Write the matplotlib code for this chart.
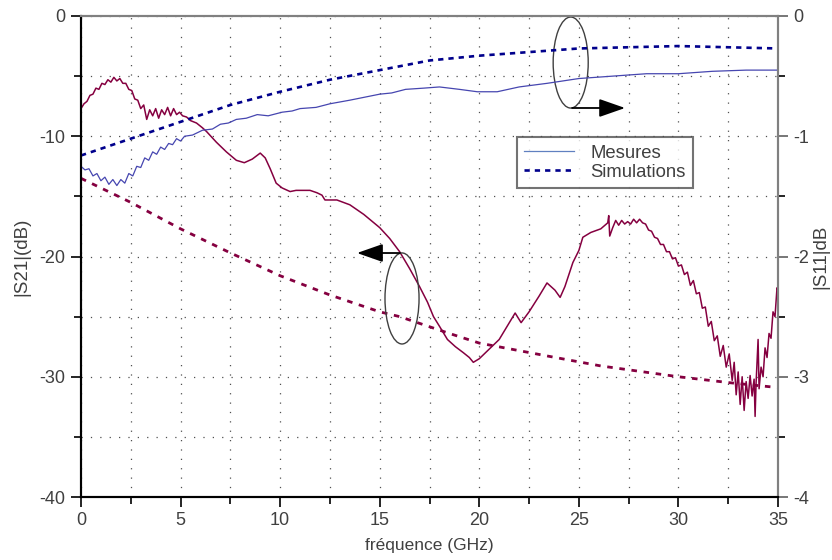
#!/usr/bin/env python3

import matplotlib
matplotlib.use("Agg")
import matplotlib.pyplot as plt
import matplotlib.ticker as mticker
from matplotlib.patches import Ellipse

plt.rcParams["font.family"] = ["Liberation Sans", "DejaVu Sans"]
plt.rcParams["axes.unicode_minus"] = False

MAROON = "#850040"
BLUE_MEAS = "#4646b0"
BLUE_SIM = "#00008c"
TEXT = "#404040"

# |S21| mesure (axe gauche, dB)
S21_MEAS_F = [
    0.0, 0.15, 0.3, 0.45, 0.6, 0.75, 0.9, 1.05, 1.2, 1.35, 1.5, 1.65, 1.8, 1.95,
    2.1, 2.25, 2.4, 2.55, 2.7, 2.85, 3.0, 3.15, 3.3, 3.45, 3.6, 3.75, 3.9, 4.05,
    4.2, 4.35, 4.5, 4.65, 4.8, 4.95, 5.1, 5.3, 5.5, 5.8, 6.1, 6.3, 6.8, 7.3,
    7.8, 8.2, 8.6, 9.0, 9.25, 9.5, 9.8, 10.1, 10.5, 10.8, 11.15, 11.5, 11.85,
    12.1, 12.25, 12.85, 13.5, 14.2, 15.0, 15.5, 16.0, 16.5, 17.0, 17.4, 17.7,
    18.0, 18.4, 18.8, 19.2, 19.5, 19.7, 20.0, 20.5, 21.0, 21.4, 21.8, 22.1,
    22.5, 23.0, 23.4, 23.8, 24.06, 24.3, 24.7, 25.0, 25.2, 25.6, 26.1, 26.45,
    26.5, 26.55, 26.7, 26.85, 27.0, 27.15, 27.3, 27.45, 27.6, 27.75, 27.9,
    28.05, 28.2, 28.35, 28.5, 28.65, 28.8, 28.95, 29.1, 29.25, 29.4, 29.55,
    29.7, 29.85, 30.0, 30.15, 30.3, 30.45, 30.6, 30.75, 30.9, 31.05, 31.2,
    31.35, 31.5, 31.65, 31.8, 31.95, 32.1, 32.25, 32.4, 32.55, 32.7, 32.8,
    32.9, 33.0, 33.1, 33.2, 33.3, 33.4, 33.5, 33.6, 33.7, 33.8, 33.85, 33.9,
    34.0, 34.05, 34.15, 34.25, 34.35, 34.45, 34.55, 34.65, 34.75, 34.85,
    34.95, 35.0,
]
S21_MEAS = [
    -7.7, -7.3, -7.1, -6.6, -6.5, -6.0, -6.1, -5.6, -5.7, -5.3, -5.5, -5.1, -5.4, -5.2,
    -5.6, -5.6, -6.1, -6.2, -6.9, -7.0, -7.7, -7.4, -8.6, -7.8, -8.3, -7.7, -8.5, -7.8,
    -8.2, -7.6, -8.3, -7.7, -8.2, -8.0, -8.3, -8.4, -8.7, -8.9, -9.3, -9.6, -10.5, -11.3,
    -12.0, -12.2, -11.9, -11.4, -11.8, -12.7, -13.9, -14.3, -14.6, -14.5, -14.5, -14.5, -14.7,
    -14.9, -15.3, -15.3, -15.7, -16.5, -17.6, -18.5, -19.6, -21.0, -22.5, -23.8, -25.0,
    -25.8, -26.9, -27.5, -28.0, -28.4, -28.8, -28.5, -27.7, -26.9, -25.8, -24.7, -25.5,
    -24.6, -23.3, -22.2, -22.8, -23.4, -22.5, -20.5, -19.5, -18.4, -18.0, -17.7, -17.2,
    -16.6, -18.3, -17.6, -17.0, -17.4, -17.0, -17.3, -17.1, -17.3, -16.9, -17.2,
    -16.9, -17.2, -17.3, -17.8, -17.9, -18.4, -18.5, -19.0, -19.0, -19.6, -19.6,
    -20.2, -20.1, -20.8, -20.7, -21.5, -21.3, -22.4, -22.0, -23.1, -23.0, -24.3,
    -24.2, -25.8, -25.4, -27.0, -26.6, -28.3, -27.4, -29.2, -28.1, -30.3, -28.8,
    -31.5, -29.6, -32.3, -30.0, -32.8, -30.4, -31.8, -29.9, -31.6, -30.2, -33.3, -30.5,
    -26.9, -31.0, -29.2, -30.0, -27.6, -28.4, -26.4, -26.8, -24.6, -25.0,
    -22.6, -22.8,
]

# |S21| simulation (axe gauche, dB)
S21_SIM_F = [0.0, 2.5, 5.0, 7.5, 10.0, 12.5, 15.0, 16.0, 18.5, 20.0, 23.5, 26.1, 30.0, 32.6, 35.0]
S21_SIM = [-13.5, -15.5, -17.7, -19.7, -21.6, -23.2, -24.6, -25.0, -26.4, -27.2, -28.3, -29.1, -30.0, -30.5, -30.9]

# |S11| mesure (axe droit, dB)
S11_MEAS_F = [
    0.0, 0.2, 0.4, 0.6, 0.8, 1.0, 1.2, 1.4, 1.6, 1.8, 2.0, 2.2, 2.4, 2.6, 2.8, 3.0,
    3.2, 3.4, 3.6, 3.8, 4.0, 4.2, 4.4, 4.6, 4.8, 5.0, 5.2, 5.6, 6.1, 6.6, 7.0, 7.4,
    7.8, 8.3, 8.85, 9.4, 10.1, 10.6, 11.0, 11.8, 12.5, 13.5, 15.0, 15.6, 16.3, 17.2,
    18.0, 19.0, 19.9, 20.9, 22.0, 23.4, 25.0, 26.7, 28.4, 30.0, 31.7, 33.4, 35.0,
]
S11_MEAS = [
    -1.25, -1.28, -1.27, -1.33, -1.31, -1.37, -1.34, -1.40, -1.36, -1.41, -1.36, -1.39, -1.31, -1.33, -1.25, -1.26,
    -1.18, -1.20, -1.13, -1.15, -1.09, -1.11, -1.06, -1.07, -1.02, -1.04, -1.00, -0.99, -0.95, -0.94, -0.90, -0.89,
    -0.86, -0.85, -0.82, -0.83, -0.80, -0.79, -0.77, -0.76, -0.73, -0.70, -0.65, -0.64, -0.61, -0.60,
    -0.59, -0.61, -0.63, -0.63, -0.59, -0.56, -0.52, -0.50, -0.48, -0.48, -0.46, -0.45, -0.45,
]

# |S11| simulation (axe droit, dB)
S11_SIM_F = [0.0, 2.5, 5.0, 7.5, 10.0, 11.5, 12.5, 15.0, 17.5, 20.0, 22.5, 25.0, 27.5, 30.0, 32.5, 35.0]
S11_SIM = [-1.16, -1.02, -0.88, -0.74, -0.63, -0.57, -0.53, -0.45, -0.37, -0.33, -0.30, -0.27, -0.26, -0.25, -0.26, -0.27]

LEGEND_LABELS = ["Mesures", "Simulations"]


def _mark_axis(ax, center, size, arrow_from, arrow_to):
    ax.add_patch(Ellipse(center, size[0], size[1], fill=False,
                         edgecolor="#404040", linewidth=1.0, zorder=5))
    ax.annotate("", xy=arrow_to, xytext=arrow_from,
                arrowprops=dict(arrowstyle="-|>,head_length=0.4,head_width=0.14",
                                mutation_scale=40, color="black", lw=1.3,
                                shrinkA=0, shrinkB=0), zorder=6)


def main() -> None:
    fig = plt.figure(figsize=(8.32, 5.6), dpi=100)
    ax = fig.add_axes([81 / 832, 63 / 560, 697 / 832, 481 / 560])
    ax2 = ax.twinx()

    ax.plot(S21_SIM_F, S21_SIM, color=MAROON, lw=2.0, dashes=(2.0, 2.4))
    ax.plot(S21_MEAS_F, S21_MEAS, color=MAROON, lw=1.1)

    ax2.plot(S11_MEAS_F, S11_MEAS, color=BLUE_MEAS, lw=0.9, label=LEGEND_LABELS[0])
    ax2.plot(S11_SIM_F, S11_SIM, color=BLUE_SIM, lw=1.9, dashes=(2.0, 1.9), label=LEGEND_LABELS[1])

    ax.set_xlim(0, 35)
    ax.set_ylim(-40, 0)
    ax2.set_ylim(-4, 0)

    ax.xaxis.set_major_locator(mticker.MultipleLocator(5))
    ax.xaxis.set_minor_locator(mticker.MultipleLocator(2.5))
    ax.yaxis.set_major_locator(mticker.MultipleLocator(10))
    ax.yaxis.set_minor_locator(mticker.MultipleLocator(5))
    ax2.yaxis.set_major_locator(mticker.MultipleLocator(1))
    ax2.yaxis.set_minor_locator(mticker.MultipleLocator(0.5))

    for a in (ax, ax2):
        a.tick_params(which="major", direction="out", length=7, width=1.2,
                      labelsize=13, labelcolor=TEXT, pad=4)
        a.tick_params(which="minor", direction="out", length=5, width=1.2)

    ax.grid(True, which="both", axis="x", color="#505050", lw=0.9, dashes=(1, 6.5))
    ax.grid(True, which="both", axis="y", color="#505050", lw=0.9, dashes=(1, 6.5))
    ax.set_axisbelow(True)

    for a in (ax, ax2):
        a.spines["left"].set_color("black")
        a.spines["bottom"].set_color("black")
        a.spines["top"].set_color("#808080")
        a.spines["right"].set_color("#808080")
        for s in a.spines.values():
            s.set_linewidth(1.5)
    ax2.tick_params(axis="y", colors="#606060", labelcolor=TEXT)

    ax.set_xlabel("fréquence (GHz)", fontsize=12.5, color=TEXT)
    ax.set_ylabel("|S21|(dB)", fontsize=13.5, color=TEXT)
    ax2.set_ylabel("|S11|dB", fontsize=13.5, color=TEXT)
    ax.xaxis.set_label_coords(0.5, -0.085)
    ax.yaxis.set_label_coords(-0.073, 0.5)
    ax2.yaxis.set_label_coords(1.05, 0.5)

    leg = ax2.legend(loc="upper left", bbox_to_anchor=(0.625, 0.748), fontsize=13.3,
                     frameon=True, fancybox=False, handlelength=2.7,
                     handletextpad=0.9, labelspacing=0.12, borderpad=0.4,
                     borderaxespad=0)
    leg.get_frame().set_edgecolor("#505050")
    leg.get_frame().set_linewidth(1.5)
    leg.get_lines()[0].set_color("#6080c0")
    for t in leg.get_texts():
        t.set_color(TEXT)

    # ellipse + fleche: courbes bleues -> axe droit, courbes rouges -> axe gauche
    _mark_axis(ax, (24.59, -3.87), (1.76, 7.57), (24.66, -7.65), (27.32, -7.65))
    _mark_axis(ax, (16.12, -23.49), (1.71, 7.57), (16.02, -19.71), (13.86, -19.71))

    fig.savefig("out.png", dpi=100)
    plt.close(fig)


if __name__ == "__main__":
    main()
